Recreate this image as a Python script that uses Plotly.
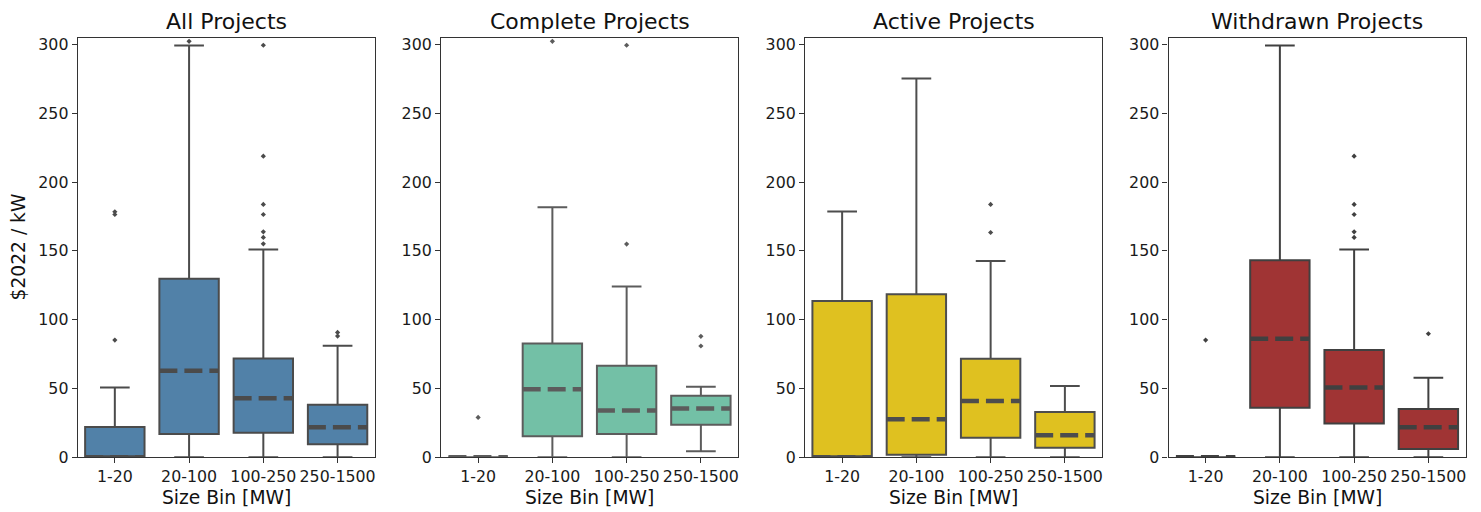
import plotly.graph_objects as go

categories = ["1-20", "20-100", "100-250", "250-1500"]
panel_titles = ["All Projects", "Complete Projects", "Active Projects", "Withdrawn Projects"]
y_ticks = [0, 50, 100, 150, 200, 250, 300]

# All Projects
all_q1 = [0, 16.9, 17.9, 9.4]
all_median = [0, 63.0, 42.9, 21.8]
all_q3 = [22.0, 129.8, 71.9, 38.2]
all_lower = [0, 0, 0, 0]
all_upper = [50.8, 299.3, 151.1, 81.1]
all_outliers = [[85.2, 176.5, 178.5], [302.4],
                [155.2, 159.8, 163.9, 176.5, 183.8, 218.9, 299.5], [88.1, 90.8]]

# Complete Projects
complete_q1 = [0, 15.3, 16.9, 23.7]
complete_median = [0, 49.4, 34.1, 35.4]
complete_q3 = [0, 82.8, 66.6, 44.8]
complete_lower = [0, 0, 0, 4.4]
complete_upper = [0, 181.8, 124.2, 51.3]
complete_outliers = [[29.0], [302.4], [155.0, 299.5], [80.9, 87.9]]

# Active Projects
active_q1 = [0, 1.9, 14.3, 7.0]
active_median = [0, 27.6, 40.9, 16.0]
active_q3 = [113.6, 118.6, 71.7, 32.9]
active_lower = [0, 0, 0, 0]
active_upper = [178.7, 275.3, 142.6, 51.8]
active_outliers = [[], [], [163.4, 183.8], []]

# Withdrawn Projects
withdrawn_q1 = [0, 36.1, 24.5, 6.1]
withdrawn_median = [0, 86.2, 50.8, 21.8]
withdrawn_q3 = [0, 143.3, 78.0, 35.1]
withdrawn_lower = [0, 0, 0, 0]
withdrawn_upper = [0, 299.3, 151.1, 57.9]
withdrawn_outliers = [[85.2], [], [159.8, 163.9, 176.5, 183.8, 218.9], [89.8]]

fill_colors = ["#5181a8", "#73c0a6", "#dfc120", "#a03434"]
line_colors = ["#4b4b4b", "#5c5c5c", "#4d4d4d", "#404040"]

panels = [
    (all_q1, all_median, all_q3, all_lower, all_upper, all_outliers),
    (complete_q1, complete_median, complete_q3, complete_lower, complete_upper, complete_outliers),
    (active_q1, active_median, active_q3, active_lower, active_upper, active_outliers),
    (withdrawn_q1, withdrawn_median, withdrawn_q3, withdrawn_lower, withdrawn_upper, withdrawn_outliers),
]

# page body has an 8px margin; compensate so the picture lands where the reference is
OFF = 8
W, H = 1481 - OFF, 512 - OFF
x_px = [(77.7, 374.7), (441.0, 738.0), (805.0, 1102.0), (1168.5, 1465.5)]
x_px = [(a - OFF, b - OFF) for a, b in x_px]
y_top_px, y_bot_px = 37.7 - OFF, 457.3 - OFF
y_dom = [1 - y_bot_px / H, 1 - y_top_px / H]

FONT = "DejaVu Sans"
TEXT = "#1a1a1a"
BOX_W = 0.8
TICK_SIZE = 15.8
LABEL_SIZE = 18.7
TITLE_SIZE = 22

fig = go.Figure()
layout = dict(
    width=W, height=H, margin=dict(l=0, r=0, t=0, b=0),
    paper_bgcolor="white", plot_bgcolor="white", showlegend=False,
    font=dict(family=FONT, color=TEXT),
)
annotations = []

for p, (q1, med, q3, lo, hi, outs) in enumerate(panels):
    ax = "" if p == 0 else str(p + 1)
    xref, yref = "x" + ax, "y" + ax
    fc, lc = fill_colors[p], line_colors[p]
    for i in range(len(categories)):
        fig.add_trace(go.Box(
            x=[i], q1=[q1[i]], median=[med[i]], q3=[q3[i]],
            lowerfence=[lo[i]], upperfence=[hi[i]],
            width=BOX_W, whiskerwidth=0.5, boxpoints=False,
            fillcolor=fc, line=dict(color=lc, width=2),
            xaxis=xref, yaxis=yref, hoverinfo="skip",
        ))
        if q1[i] < med[i] < q3[i]:
            fig.add_trace(go.Scatter(
                x=[i - BOX_W / 2 + 0.02, i + BOX_W / 2 - 0.02], y=[med[i], med[i]],
                mode="lines", line=dict(color=fc, width=5),
                xaxis=xref, yaxis=yref, hoverinfo="skip",
            ))
        fig.add_trace(go.Scatter(
            x=[i - BOX_W / 2, i + BOX_W / 2], y=[med[i], med[i]],
            mode="lines", line=dict(color=lc, width=4.5, dash="18px,7px"),
            xaxis=xref, yaxis=yref, hoverinfo="skip",
        ))
        if outs[i]:
            fig.add_trace(go.Scatter(
                x=[i] * len(outs[i]), y=outs[i], mode="markers",
                marker=dict(symbol="diamond", size=4, color=lc),
                xaxis=xref, yaxis=yref, hoverinfo="skip",
            ))

    x0, x1 = x_px[p]
    layout["xaxis" + ax] = dict(
        domain=[x0 / W, x1 / W], anchor=yref, range=[-0.5, 3.5],
        tickmode="array", tickvals=list(range(len(categories))), ticktext=categories,
        showline=True, linecolor="#333333", linewidth=1.2, mirror=True,
        ticks="outside", ticklen=5, tickcolor="#333333", tickwidth=1.2,
        showgrid=False, zeroline=False, tickfont=dict(size=TICK_SIZE, family=FONT, color=TEXT),
        ticklabelstandoff=0, automargin=False, fixedrange=True,
    )
    layout["yaxis" + ax] = dict(
        domain=y_dom, anchor=xref, range=[0, 305],
        tickmode="array", tickvals=y_ticks,
        showline=True, linecolor="#333333", linewidth=1.2, mirror=True,
        ticks="outside", ticklen=5, tickcolor="#333333", tickwidth=1.2,
        showgrid=False, zeroline=False, tickfont=dict(size=TICK_SIZE, family=FONT, color=TEXT),
        ticklabelstandoff=0, automargin=False, fixedrange=True,
    )
    xc = (x0 + x1) / 2 / W
    annotations.append(dict(
        text=panel_titles[p], x=xc, y=1 - (21.5 - OFF) / H, xref="paper", yref="paper",
        xanchor="center", yanchor="middle", showarrow=False,
        font=dict(size=TITLE_SIZE, family=FONT, color="#111111"),
    ))
    annotations.append(dict(
        text="Size Bin [MW]", x=xc, y=1 - (497.5 - OFF) / H, xref="paper", yref="paper",
        xanchor="center", yanchor="middle", showarrow=False,
        font=dict(size=LABEL_SIZE, family=FONT, color="#111111"),
    ))

annotations.append(dict(
    text="$2022 / kW", x=(18 - OFF) / W, y=1 - (247.5 - OFF) / H, xref="paper", yref="paper",
    xanchor="center", yanchor="middle", textangle=-90, showarrow=False,
    font=dict(size=LABEL_SIZE, family=FONT, color="#111111"),
))
layout["annotations"] = annotations
fig.update_layout(**layout)
fig.write_html("out.html")
